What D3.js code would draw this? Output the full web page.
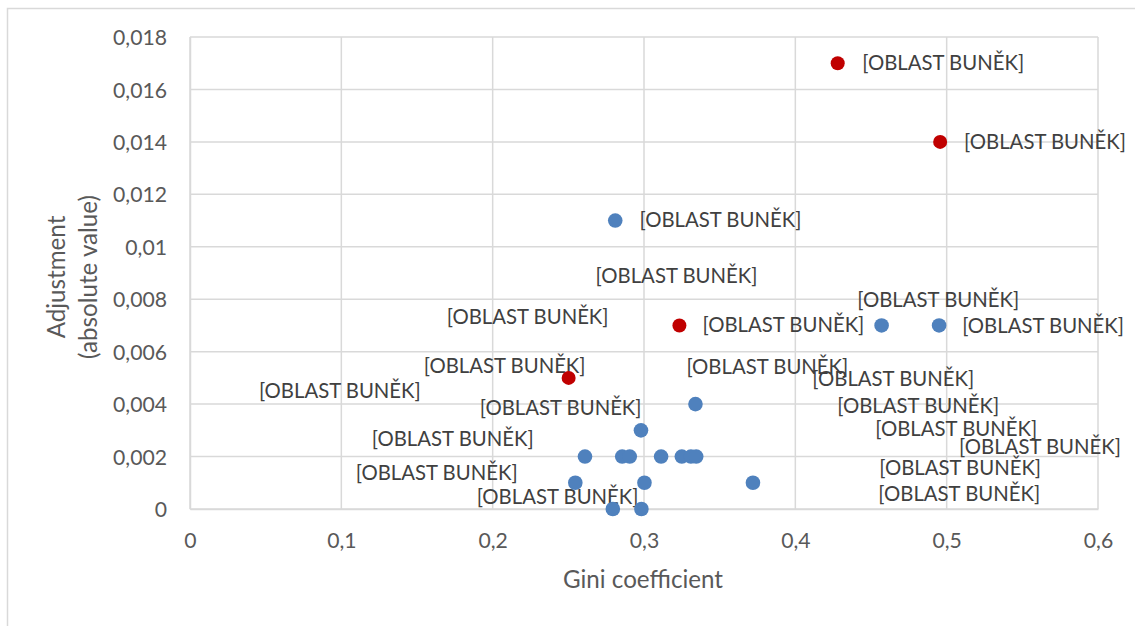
<!DOCTYPE html>
<html>
<head>
<meta charset="utf-8">
<script src="https://cdn.jsdelivr.net/npm/d3@7/dist/d3.min.js"></script>
<style>
  html, body { margin: 0; padding: 0; background: #ffffff; }
  svg { display: block; }
</style>
</head>
<body>
<svg id="chart" width="1135" height="626"></svg>
<script>
// ---------------- DATA ----------------
const xTicks = [0, 0.1, 0.2, 0.3, 0.4, 0.5, 0.6];
const xTickLabels = ["0", "0,1", "0,2", "0,3", "0,4", "0,5", "0,6"];
const yTicks = [0, 0.002, 0.004, 0.006, 0.008, 0.01, 0.012, 0.014, 0.016, 0.018];
const yTickLabels = ["0", "0,002", "0,004", "0,006", "0,008", "0,01", "0,012", "0,014", "0,016", "0,018"];

const xTitle = "Gini coefficient";
const yTitleLines = ["Adjustment", "(absolute value)"];
const labelText = "[OBLAST BUNĚK]";

// Series 1 (blue)
const blueX = [0.281, 0.457, 0.495, 0.334, 0.298, 0.261, 0.2856, 0.2906, 0.3113, 0.325, 0.331, 0.3345, 0.2546, 0.3003, 0.372, 0.2794, 0.2983];
const blueY = [0.011, 0.007, 0.007, 0.004, 0.003, 0.002, 0.002, 0.002, 0.002, 0.002, 0.002, 0.002, 0.001, 0.001, 0.001, 0, 0];
// Series 2 (red)
const redX = [0.428, 0.4957, 0.3234, 0.2502];
const redY = [0.017, 0.014, 0.007, 0.005];

// Data-label centres (in data units, as the labels were placed in the chart)
const labelX = [0.4977, 0.5650, 0.3505, 0.3215, 0.4944, 0.2231, 0.3921, 0.5637, 0.2079, 0.3815, 0.0990,
                0.4647, 0.2449, 0.4812, 0.5063, 0.1736, 0.5617, 0.5089, 0.1630, 0.5083, 0.2429];
const labelY = [0.01701, 0.01400, 0.01102, 0.008886, 0.00797, 0.007322, 0.007017, 0.006979, 0.005453, 0.005415, 0.0045,
                0.004958, 0.003852, 0.003928, 0.003051, 0.00267, 0.002364, 0.001564, 0.001373, 0.000572, 0.000458];

// ---------------- STYLE ----------------
const FONT = "Lato, 'Open Sans', 'DejaVu Sans', sans-serif";
const gridColor = "#d9d9d9";
const tickColor = "#595959";
const labelColor = "#404040";
const blueColor = "#4f81bd";
const redColor = "#c00000";

const svg = d3.select("#chart");

const x = d3.scaleLinear().domain([0, 0.6]).range([190, 1098]);
const y = d3.scaleLinear().domain([0, 0.018]).range([509, 37]);

// helper: font size that gives a target width for a string
function fitSize(str, targetWidth) {
  const t = svg.append("text").attr("font-family", FONT).attr("font-size", 20).text(str);
  const w = t.node().getComputedTextLength();
  t.remove();
  return 20 * targetWidth / w;
}
const tickSize = fitSize("0,018", 54);
const labelSize = fitSize(labelText, 162);
const titleSize = fitSize(xTitle, 160);

// outer chart-area border
svg.append("path")
  .attr("d", "M7.5,626 L7.5,8.5 L1135,8.5")
  .attr("fill", "none")
  .attr("stroke", gridColor)
  .attr("stroke-width", 1.5);

// gridlines
const grid = svg.append("g");
grid.selectAll("line.h").data(yTicks).join("line")
  .attr("class", "h")
  .attr("x1", x(0)).attr("x2", x(0.6))
  .attr("y1", d => y(d)).attr("y2", d => y(d))
  .attr("stroke", gridColor).attr("stroke-width", 1.5);
grid.selectAll("line.v").data(xTicks).join("line")
  .attr("class", "v")
  .attr("x1", d => x(d)).attr("x2", d => x(d))
  .attr("y1", y(0)).attr("y2", y(0.018))
  .attr("stroke", gridColor).attr("stroke-width", 1.5);

// axes via d3 axis generators
const xAxis = d3.axisBottom(x).tickValues(xTicks).tickSize(0)
  .tickFormat((d, i) => xTickLabels[i]);
const yAxis = d3.axisLeft(y).tickValues(yTicks).tickSize(0)
  .tickFormat((d, i) => yTickLabels[i]);

const gx = svg.append("g").attr("transform", `translate(0,${y(0)})`).call(xAxis);
gx.select(".domain").attr("stroke", gridColor).attr("stroke-width", 1.5);
gx.selectAll("text")
  .attr("font-family", FONT).attr("font-size", tickSize)
  .attr("fill", tickColor)
  .attr("y", 39).attr("dy", 0);

const gy = svg.append("g").attr("transform", `translate(${x(0)},0)`).call(yAxis);
gy.select(".domain").attr("stroke", gridColor).attr("stroke-width", 1.5);
gy.selectAll("text")
  .attr("font-family", FONT).attr("font-size", tickSize)
  .attr("fill", tickColor)
  .attr("x", -23).attr("dy", (0.36 * tickSize) + "px");

// axis titles
svg.append("text")
  .attr("x", 643).attr("y", 588)
  .attr("text-anchor", "middle")
  .attr("font-family", FONT).attr("font-size", titleSize)
  .attr("fill", tickColor)
  .text(xTitle);

const yt = svg.append("text")
  .attr("transform", "translate(0,277) rotate(-90)")
  .attr("text-anchor", "middle")
  .attr("font-family", FONT).attr("font-size", titleSize)
  .attr("fill", tickColor);
yt.selectAll("tspan").data(yTitleLines).join("tspan")
  .attr("x", 0)
  .attr("y", (d, i) => i === 0 ? 65 : 97)
  .text(d => d);

// data labels
svg.append("g").selectAll("text").data(labelX.map((v, i) => ({ lx: v, ly: labelY[i] })))
  .join("text")
  .attr("x", d => x(d.lx))
  .attr("y", d => y(d.ly) + 0.36 * labelSize)
  .attr("text-anchor", "middle")
  .attr("font-family", FONT).attr("font-size", labelSize)
  .attr("fill", labelColor)
  .text(labelText);

// points
const blue = blueX.map((v, i) => ({ gx: v, gy: blueY[i] }));
const red = redX.map((v, i) => ({ gx: v, gy: redY[i] }));

svg.append("g").selectAll("circle").data(blue).join("circle")
  .attr("cx", d => x(d.gx)).attr("cy", d => y(d.gy))
  .attr("r", 7.3).attr("fill", blueColor);

svg.append("g").selectAll("circle").data(red).join("circle")
  .attr("cx", d => x(d.gx)).attr("cy", d => y(d.gy))
  .attr("r", 7).attr("fill", redColor);
</script>
</body>
</html>
